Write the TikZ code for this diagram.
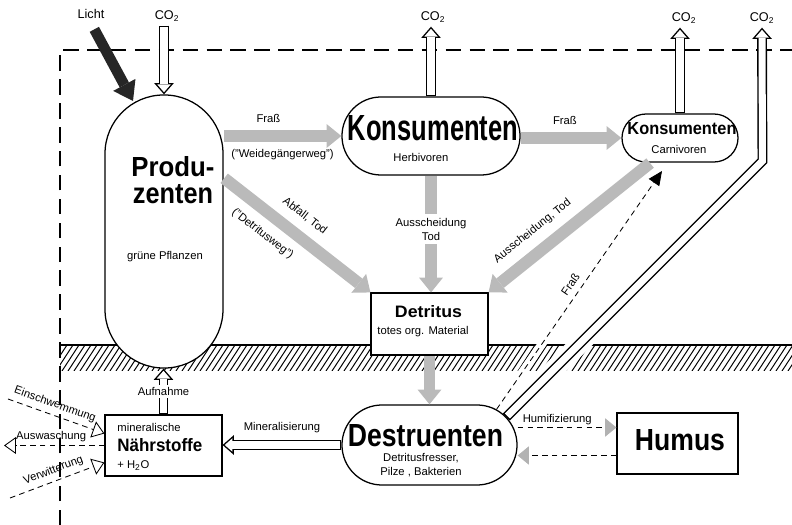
\documentclass[tikz,border=0pt]{standalone}
\usepackage{fontspec}
\setmainfont{Liberation Sans}
\usepackage{graphicx}
\usetikzlibrary{arrows.meta,shapes.misc,backgrounds}

\newcommand{\bigword}[3]{\resizebox{#1cm}{#2cm}{\bfseries #3}}

\tikzset{
  sm/.style={font=\fontsize{8}{9.5}\selectfont, inner sep=1.5pt},
  gas/.style={font=\fontsize{9}{10}\selectfont, inner sep=3pt},
  bigname/.style={inner sep=0pt, anchor=base},
  stadium/.style={rounded rectangle, draw, fill=white, line width=0.9pt, inner sep=0pt},
  box/.style={rectangle, draw, fill=white, line width=0.8pt, inner sep=0pt},
  grayflow/.style={draw=black!27, line width=8.5pt, shorten <=0.5pt,
    -{Triangle[length=10.5pt, width=17pt, line width=0pt]}},
  hollow/.style={line width=7pt,
    -{Triangle[length=8pt, width=14pt, line width=0pt]},
    postaction={draw=white, line width=5pt, shorten <=1pt, shorten >=1.52pt,
      -{Triangle[length=5.5pt, width=9.6pt, line width=0pt]}}},
  lichtarrow/.style={draw=black!85, line width=7.5pt, shorten <=5pt,
    -{Triangle[length=13pt, width=18pt, line width=0pt]}},
  thindash/.style={line width=0.6pt, dash pattern=on 4pt off 3pt},
  boundary/.style={line width=1pt, dash pattern=on 11pt off 6pt},
}

\begin{document}
\begin{tikzpicture}[x=0.025cm, y=-0.025cm]
\useasboundingbox (0,0) rectangle (792,525);

\node[draw, fill=white, line width=0.9pt, rounded corners=1.47cm, inner sep=0pt,
  minimum width=2.95cm, minimum height=6.825cm] (prod) at (164,231.5) {};
\node[bigname] (prod1) at (173,177) {\bigword{2.075}{0.5}{Produ-}};
\node[bigname] (prod2) at (173,204) {\bigword{2.0}{0.475}{zenten}};
\node[sm] (prod3) at (165,257) {grüne Pflanzen};

\node[stadium, minimum width=4.45cm, minimum height=1.95cm] (herb) at (431,136) {};
\node[bigname] (herb1) at (433,141) {\bigword{4.25}{0.625}{Konsumenten}};
\node[sm] (herb2) at (421,157) {Herbivoren};

\node[stadium, minimum width=2.9cm, minimum height=1.2cm] (carn) at (680,138) {};
\node[bigname] (carn1) at (682,135) {\bigword{2.725}{0.3}{Konsumenten}};
\node[sm] (carn2) at (679,149) {Carnivoren};

\node[box, minimum width=2.925cm, minimum height=1.55cm] (det) at (429.5,324) {};
\node[bigname] (det1) at (428.5,318) {\bigword{1.675}{0.3}{Detritus}};
\node[sm] (det2) at (423,332) {totes org. Material};

\node[stadium, minimum width=4.375cm, minimum height=2cm] (destr) at (429.5,445) {};
\node[bigname] (destr1) at (425.5,447) {\bigword{3.875}{0.55}{Destruenten}};
\node[sm, align=center] (destr2) at (421,465) {Detritusfresser,\\Pilze , Bakterien};

\node[box, minimum width=2.925cm, minimum height=1.525cm] (naehr) at (163.5,445.5) {};
\node[sm, anchor=west] (naehr1) at (115,427) {mineralische};
\node[bigname, anchor=base west] (naehr2) at (117,452) {\bigword{2.125}{0.325}{Nährstoffe}};
\node[sm, anchor=west] (naehr3) at (115,466) {+ H\textsubscript{2}O};

\node[box, minimum width=3.025cm, minimum height=1.525cm] (hum) at (677.5,443.5) {};
\node[bigname] (hum1) at (680,451) {\bigword{2.25}{0.525}{Humus}};

\node[gas] (licht) at (91,14) {Licht};
\node[gas] (co2a) at (167,16) {CO\textsubscript{2}};
\node[gas] (co2b) at (433,17) {CO\textsubscript{2}};
\node[gas] (co2c) at (684,18) {CO\textsubscript{2}};
\node[gas] (co2d) at (762,18) {CO\textsubscript{2}};

\coordinate (lichtein) at (133,101);
\coordinate (fress) at (662,171);
\coordinate (humin) at ([yshift=0.4cm]hum.west);
\coordinate (humout) at ([yshift=-0.3cm]hum.west);
\coordinate (ein) at (8,399);
\coordinate (aus) at (4,445.5);
\coordinate (ver) at (10,498);

\begin{scope}[on background layer]
  \draw[boundary] (60,525) -- (60,50) -- (792,50);
  \begin{scope}
    \clip (60,343) rectangle (792,371);
    \draw[line width=0.9pt] (60,345) -- (792,345);
    \foreach \x in {20,26,...,790}
      \draw[line width=0.7pt] (\x,371) -- ++(17,-26);
    \draw[white, line width=14pt] (destr.20) -- ++(256,-256);
    \draw[white, line width=6pt] (destr.28) -- (fress);
  \end{scope}
\end{scope}

\draw[lichtarrow] (licht.south) -- (lichtein);
\draw[hollow] (prod.north |- co2a.south) -- (prod.north);
\draw[hollow] (herb.north) -- (herb.north |- co2b.south);
\draw[hollow] (carn.north) -- (carn.north |- co2c.south);
\draw[hollow] (destr.20) -- ++(256,-256) -- (co2d.south);

\draw[grayflow] (prod.east |- herb.west) -- node[sm, above=4pt, pos=0.38] {Fraß}
  node[sm, below=4pt, pos=0.5] {("Weidegängerweg")} (herb.west);
\draw[grayflow] (herb.east |- carn.west) -- node[sm, above=4pt, pos=0.44] {Fraß} (carn.west);
\draw[grayflow] ([yshift=1.34cm]prod.east) --
  node[sm, sloped, above=5pt, pos=0.47] {Abfall, Tod}
  node[sm, sloped, below=5pt, pos=0.35] {("Detritusweg")} (det.north west);
\draw[grayflow] (herb.south) -- node[sm, fill=white, align=center, inner ysep=3pt, pos=0.46]
  {Ausscheidung\\Tod} (herb.south |- det.north);
\draw[grayflow] (carn.220) -- node[sm, sloped, above=5pt, pos=0.65] {Ausscheidung, Tod} (det.north east);
\draw[grayflow] (det.south) -- (det.south |- destr.north);

\draw[hollow] (naehr.north) -- node[sm, fill=white, pos=0.5] {Aufnahme} (naehr.north |- prod.south);
\draw[hollow] (destr.west) -- node[sm, above=4pt] {Mineralisierung} (destr.west -| naehr.east);

\draw[thindash, -{Triangle[length=10pt, width=9pt]}] (destr.28) --
  node[sm, sloped, above=3pt, pos=0.5] {Fraß} (fress);
\draw[thindash, -{Triangle[color=black!30, length=8pt, width=13pt]}] (destr.east |- humin) --
  node[sm, above, pos=0.4] {Humifizierung} (humin);
\draw[thindash, -{Triangle[color=black!30, length=8pt, width=13pt]}] (humout) -- (destr.east |- humout);

\draw[thindash, -{Triangle[open, length=8.5pt, width=12pt]}] (ein) --
  node[sm, sloped, above=2pt, pos=0.45] {Einschwemmung} ([yshift=0.3cm]naehr.west);
\draw[thindash, -{Triangle[open, length=8.5pt, width=12pt]}] (naehr.west) --
  node[sm, above=1pt, pos=0.53] {Auswaschung} (aus);
\draw[thindash, -{Triangle[open, length=8.5pt, width=12pt]}] (ver) --
  node[sm, sloped, above=2pt, pos=0.5] {Verwitterung} ([yshift=-0.425cm]naehr.west);
\end{tikzpicture}
\end{document}
